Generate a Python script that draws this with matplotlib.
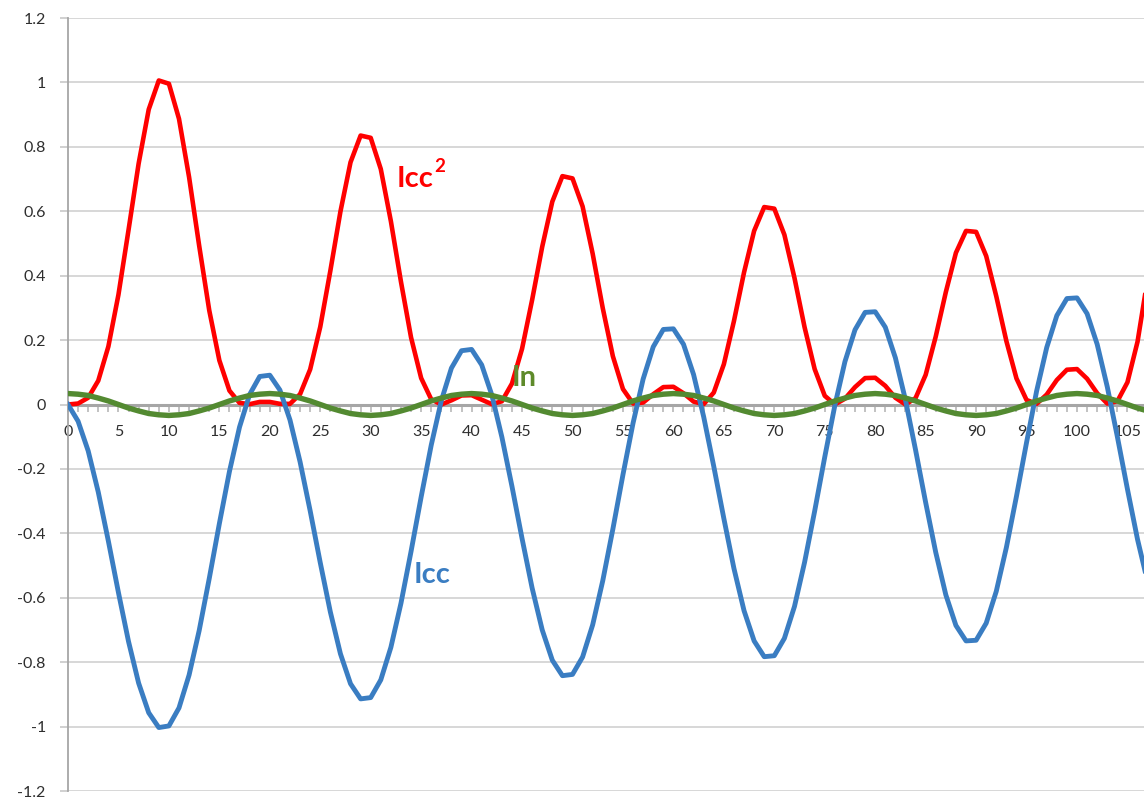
import matplotlib
matplotlib.use("Agg")
import matplotlib.pyplot as plt
from matplotlib.ticker import MultipleLocator, FuncFormatter

plt.rcParams['font.family'] = ['Lato', 'DejaVu Sans']
plt.rcParams['axes.unicode_minus'] = False

x = list(range(108))

icc = [0.000, -0.052, -0.144, -0.272, -0.424, -0.584, -0.736, -0.865, -0.957, -1.003,
       -0.998, -0.942, -0.840, -0.702, -0.540, -0.370, -0.208, -0.070, 0.031, 0.087,
       0.091, 0.045, -0.048, -0.178, -0.330, -0.491, -0.644, -0.774, -0.867, -0.914,
       -0.910, -0.855, -0.754, -0.617, -0.456, -0.287, -0.126, 0.012, 0.113, 0.167,
       0.171, 0.123, 0.030, -0.101, -0.254, -0.416, -0.570, -0.700, -0.794, -0.842,
       -0.838, -0.784, -0.684, -0.547, -0.387, -0.218, -0.058, 0.079, 0.179, 0.233,
       0.235, 0.187, 0.093, -0.038, -0.192, -0.354, -0.509, -0.640, -0.734, -0.783,
       -0.780, -0.726, -0.627, -0.490, -0.331, -0.163, -0.003, 0.133, 0.232, 0.286,
       0.288, 0.240, 0.145, 0.014, -0.141, -0.304, -0.459, -0.591, -0.686, -0.734,
       -0.732, -0.679, -0.580, -0.444, -0.285, -0.118, 0.042, 0.177, 0.276, 0.329,
       0.331, 0.282, 0.187, 0.055, -0.100, -0.263, -0.419, -0.551]

icc_sq = [0.000, 0.003, 0.021, 0.074, 0.180, 0.341, 0.542, 0.748, 0.916, 1.006,
          0.996, 0.887, 0.706, 0.493, 0.292, 0.137, 0.043, 0.005, 0.001, 0.008,
          0.008, 0.002, 0.002, 0.032, 0.109, 0.241, 0.415, 0.599, 0.752, 0.835,
          0.828, 0.731, 0.569, 0.381, 0.208, 0.082, 0.016, 0.000, 0.013, 0.028,
          0.029, 0.015, 0.001, 0.010, 0.065, 0.173, 0.325, 0.490, 0.630, 0.709,
          0.702, 0.615, 0.468, 0.299, 0.150, 0.048, 0.003, 0.006, 0.032, 0.054,
          0.055, 0.035, 0.009, 0.001, 0.037, 0.125, 0.259, 0.410, 0.539, 0.613,
          0.608, 0.527, 0.393, 0.240, 0.110, 0.027, 0.000, 0.018, 0.054, 0.082,
          0.083, 0.058, 0.021, 0.000, 0.020, 0.092, 0.211, 0.349, 0.471, 0.539,
          0.536, 0.461, 0.336, 0.197, 0.081, 0.014, 0.002, 0.031, 0.076, 0.108,
          0.110, 0.080, 0.035, 0.003, 0.010, 0.069, 0.195, 0.390]

i_n = [0.034, 0.032, 0.028, 0.020, 0.011, 0.000, -0.011, -0.020, -0.028, -0.032,
       -0.034, -0.032, -0.028, -0.020, -0.011, 0.000, 0.011, 0.020, 0.028, 0.032,
       0.034, 0.032, 0.028, 0.020, 0.011, 0.000, -0.011, -0.020, -0.028, -0.032,
       -0.034, -0.032, -0.028, -0.020, -0.011, 0.000, 0.011, 0.020, 0.028, 0.032,
       0.034, 0.032, 0.028, 0.020, 0.011, 0.000, -0.011, -0.020, -0.028, -0.032,
       -0.034, -0.032, -0.028, -0.020, -0.011, 0.000, 0.011, 0.020, 0.028, 0.032,
       0.034, 0.032, 0.028, 0.020, 0.011, 0.000, -0.011, -0.020, -0.028, -0.032,
       -0.034, -0.032, -0.028, -0.020, -0.011, 0.000, 0.011, 0.020, 0.028, 0.032,
       0.034, 0.032, 0.028, 0.020, 0.011, 0.000, -0.011, -0.020, -0.028, -0.032,
       -0.034, -0.032, -0.028, -0.020, -0.011, 0.000, 0.011, 0.020, 0.028, 0.032,
       0.034, 0.032, 0.028, 0.020, 0.011, 0.000, -0.011, -0.020]

RED = '#ff0000'
BLUE = '#3a7dc2'
GREEN = '#538a31'

W, H = 1144, 799
fig = plt.figure(figsize=(W / 100, H / 100), dpi=100)
ax = fig.add_axes([68 / W, 8 / H, (W - 68) / W, (791 - 18) / H])

ax.plot(x, icc_sq, color=RED, lw=3.3, solid_joinstyle='round', zorder=3)
ax.plot(x, icc, color=BLUE, lw=3.5, solid_joinstyle='round', zorder=4)
ax.plot(x, i_n, color=GREEN, lw=3.9, solid_joinstyle='round', zorder=5)

ax.set_xlim(0, (W - 68) / 10.09)
ax.set_ylim(-1.2, 1.2)

ax.set_axisbelow(True)
ax.yaxis.set_major_locator(MultipleLocator(0.2))
ax.grid(axis='y', color='#d4d4d4', lw=1.3)

ax.spines['top'].set_visible(False)
ax.spines['right'].set_visible(False)
ax.spines['left'].set_color('#a6a6a6')
ax.spines['left'].set_linewidth(1.3)
ax.spines['bottom'].set_position(('data', 0))
ax.spines['bottom'].set_color('#a6a6a6')
ax.spines['bottom'].set_linewidth(2.2)
for s in ax.spines.values():
    s.set_zorder(1)

def yfmt(v, pos):
    s = f"{v:.1f}"
    if s.endswith('.0'):
        s = s[:-2]
    if s == '-0':
        s = '0'
    return s

ax.yaxis.set_major_formatter(FuncFormatter(yfmt))
ax.tick_params(axis='y', direction='out', length=6, width=1.2, color='#c8c8c8',
               pad=10, labelsize=11.5, labelcolor='#2e2e2e')

ax.xaxis.set_major_locator(MultipleLocator(5))
ax.xaxis.set_minor_locator(MultipleLocator(1))
ax.xaxis.set_major_formatter(FuncFormatter(lambda v, p: f"{int(round(v))}"))
ax.tick_params(axis='x', which='both', direction='out', length=5, width=1.2,
               color='#b8b8b8')
ax.tick_params(axis='x', which='major', pad=10, labelsize=11.5, labelcolor='#2e2e2e')

ax.text(32.6, 0.700, 'Icc', color=RED, fontsize=21, fontweight='bold',
        ha='left', va='center', zorder=6)
ax.text(36.3, 0.738, '2', color=RED, fontsize=13.5, fontweight='bold',
        ha='left', va='center', zorder=6)
ax.text(44.0, 0.082, 'In', color='#5e8a2a', fontsize=21, fontweight='bold',
        ha='left', va='center', zorder=6)
ax.text(34.3, -0.530, 'Icc', color=BLUE, fontsize=21, fontweight='bold',
        ha='left', va='center', zorder=6)

fig.savefig('out.png', dpi=100)
